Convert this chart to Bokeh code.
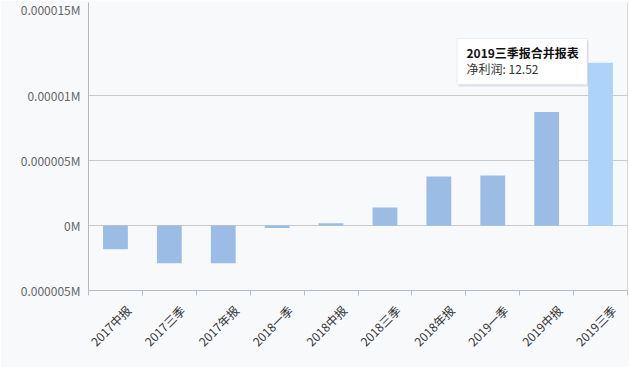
import math
from bokeh.plotting import figure
from bokeh.models import Range1d, FixedTicker, Span, BoxAnnotation, Label, ColumnDataSource
from bokeh.embed import file_html
from bokeh.resources import INLINE

categories = ["2017中报", "2017三季", "2017年报", "2018一季", "2018中报",
              "2018三季", "2018年报", "2019一季", "2019中报", "2019三季"]
net_profit = [-1.82, -2.9, -2.9, -0.2, 0.18, 1.38, 3.77, 3.85, 8.72, 12.52]
y_ticks = [-5, 0, 5, 10, 17.15]
y_tick_labels = ["0.000005M", "0M", "0.000005M", "0.00001M", "0.000015M"]
highlight = "2019三季"
tooltip_suffix = "报合并报表"
tooltip_series = "净利润"

FONT = "Noto Sans CJK SC"
BG = "#f8f9fb"
BAR = "#9bbce4"
BAR_HI = "#aed3fa"
GRID = "#c9c9c9"
AXIS = "#b4bccb"

n = len(categories)
xs = [i + 0.5 for i in range(n)]
colors = [BAR_HI if c == highlight else BAR for c in categories]
src = ColumnDataSource(dict(x=xs, top=net_profit, color=colors))

p = figure(width=629, height=367, x_range=Range1d(0, n),
           y_range=Range1d(y_ticks[0], y_ticks[-1]),
           output_backend="svg", toolbar_location=None,
           min_border_left=88, min_border_right=2, min_border_top=2, min_border_bottom=77,
           background_fill_color=BG, border_fill_color=BG)
p.outline_line_color = None

p.vbar(x="x", top="top", width=0.46, fill_color="color", line_color=None, source=src)

# pixel scales of the frame (539 px wide, 288 px tall)
px_x = 539 / n
px_y = 288 / (y_ticks[-1] - y_ticks[0])

# x axis: boundary ticks as minor ticks; label anchors shifted so the
# rotated labels end up centred under each category
label_shift = 0.24
label_pos = [x + label_shift for x in xs]
p.xaxis.ticker = FixedTicker(ticks=label_pos, minor_ticks=list(range(n + 1)))
p.xaxis.major_label_overrides = {x: c for x, c in zip(label_pos, categories)}
p.xaxis.major_tick_out = 0
p.xaxis.major_tick_in = 0
p.xaxis.minor_tick_out = 5
p.xaxis.minor_tick_in = 0
p.xaxis.minor_tick_line_color = AXIS
p.xaxis.axis_line_color = AXIS
p.xaxis.major_label_orientation = math.pi / 4
p.xaxis.major_label_text_font = FONT
p.xaxis.major_label_text_font_size = "12px"
p.xaxis.major_label_text_color = "#333333"
p.xaxis.major_label_standoff = 12
p.xgrid.grid_line_color = None

# y axis
p.yaxis.ticker = FixedTicker(ticks=y_ticks, minor_ticks=[])
p.yaxis.major_label_overrides = {t: l for t, l in zip(y_ticks, y_tick_labels)}
p.yaxis.major_tick_out = 0
p.yaxis.major_tick_in = 0
p.yaxis.minor_tick_out = 0
p.yaxis.minor_tick_in = 0
p.yaxis.axis_line_color = "#b8b8b8"
p.yaxis.major_label_text_font = FONT
p.yaxis.major_label_text_font_size = "12px"
p.yaxis.major_label_text_color = "#666666"
p.yaxis.major_label_standoff = 8
p.ygrid.grid_line_color = GRID

p.add_layout(Span(location=n, dimension="height", line_color="#b8b8b8", line_width=1))

# tooltip
hi = categories.index(highlight)
left, right = hi - 2.16, hi + 0.25
top, bottom = 14.38, 10.85
p.add_layout(BoxAnnotation(left=left + 1.5 / px_x, right=right + 1.5 / px_x,
                           top=top - 2 / px_y, bottom=bottom - 2 / px_y,
                           fill_color="#8899aa", fill_alpha=0.25, line_color=None))
p.add_layout(BoxAnnotation(left=left, right=right, top=top, bottom=bottom,
                           fill_color="white", fill_alpha=1.0,
                           line_color="#c0cfe6", line_width=1))
p.add_layout(Label(x=left + 9.3 / px_x, y=top - 14 / px_y,
                   text=highlight + tooltip_suffix, text_font=FONT,
                   text_font_size="12px", text_font_style="bold",
                   text_color="#111111", text_baseline="middle"))
p.add_layout(Label(x=left + 9.3 / px_x, y=top - 30 / px_y,
                   text=f"{tooltip_series}: {net_profit[hi]}", text_font=FONT,
                   text_font_size="12px", text_color="#333333", text_baseline="middle"))

open("out.html", "w").write(file_html(p, INLINE))
